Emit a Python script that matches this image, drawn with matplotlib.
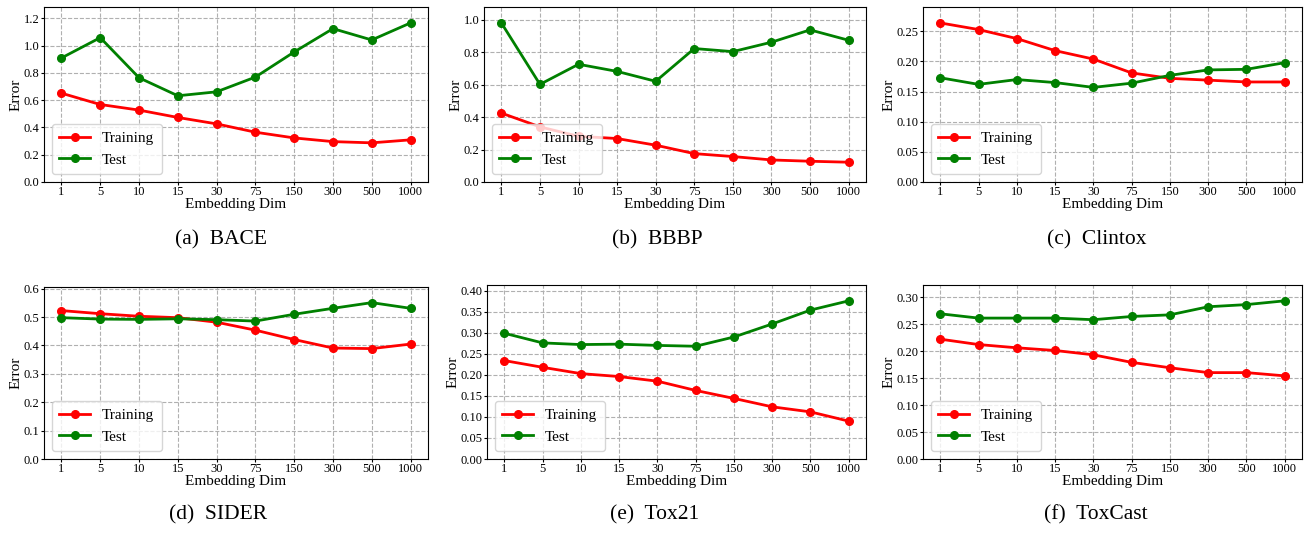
import matplotlib.pyplot as plt

plt.rcParams['font.family'] = ['Liberation Serif', 'DejaVu Serif']

dims = ["1", "5", "10", "15", "30", "75", "150", "300", "500", "1000"]

bace_train = [0.651, 0.568, 0.527, 0.473, 0.426, 0.365, 0.323, 0.296, 0.287, 0.309]
bace_test = [0.909, 1.058, 0.764, 0.632, 0.661, 0.769, 0.953, 1.124, 1.041, 1.166]

bbbp_train = [0.425, 0.340, 0.282, 0.268, 0.227, 0.175, 0.157, 0.136, 0.128, 0.122]
bbbp_test = [0.981, 0.602, 0.726, 0.682, 0.621, 0.823, 0.804, 0.862, 0.938, 0.874]

clintox_train = [0.264, 0.253, 0.238, 0.218, 0.204, 0.181, 0.172, 0.169, 0.166, 0.166]
clintox_test = [0.173, 0.162, 0.170, 0.165, 0.157, 0.164, 0.177, 0.186, 0.187, 0.198]

sider_train = [0.523, 0.512, 0.503, 0.498, 0.482, 0.454, 0.421, 0.391, 0.389, 0.405]
sider_test = [0.498, 0.493, 0.492, 0.494, 0.491, 0.486, 0.510, 0.531, 0.551, 0.531]

tox21_train = [0.234, 0.218, 0.203, 0.196, 0.185, 0.163, 0.144, 0.124, 0.112, 0.090]
tox21_test = [0.299, 0.276, 0.272, 0.273, 0.270, 0.268, 0.290, 0.321, 0.354, 0.376]

toxcast_train = [0.222, 0.212, 0.206, 0.201, 0.193, 0.179, 0.169, 0.160, 0.160, 0.154]
toxcast_test = [0.269, 0.261, 0.261, 0.261, 0.258, 0.264, 0.267, 0.282, 0.286, 0.293]

captions = ["(a)  BACE", "(b)  BBBP", "(c)  Clintox", "(d)  SIDER", "(e)  Tox21", "(f)  ToxCast"]
trains = [bace_train, bbbp_train, clintox_train, sider_train, tox21_train, toxcast_train]
tests = [bace_test, bbbp_test, clintox_test, sider_test, tox21_test, toxcast_test]
yticks = [
    [0.0, 0.2, 0.4, 0.6, 0.8, 1.0, 1.2],
    [0.0, 0.2, 0.4, 0.6, 0.8, 1.0],
    [0.00, 0.05, 0.10, 0.15, 0.20, 0.25],
    [0.0, 0.1, 0.2, 0.3, 0.4, 0.5, 0.6],
    [0.00, 0.05, 0.10, 0.15, 0.20, 0.25, 0.30, 0.35, 0.40],
    [0.00, 0.05, 0.10, 0.15, 0.20, 0.25, 0.30],
]
yfmt = ["%.1f", "%.1f", "%.2f", "%.1f", "%.2f", "%.2f"]

W, H = 1307, 534
# axes boxes in pixels: left, top, right, bottom
boxes = [
    (44, 7, 428, 182), (484, 7, 866, 182), (923, 7, 1302, 182),
    (44, 287, 428, 459), (487, 285, 866, 459), (923, 285, 1302, 459),
]
cap_pos = [(221, 240), (657, 240), (1097, 240), (218, 515), (655, 515), (1096, 515)]

fig = plt.figure(figsize=(W / 100, H / 100), dpi=100)
x = list(range(len(dims)))

for i in range(6):
    l, t, r, b = boxes[i]
    ax = fig.add_axes([l / W, 1 - b / H, (r - l) / W, (b - t) / H])
    ax.plot(x, trains[i], color='red', marker='o', markersize=5.5, linewidth=2, label='Training')
    ax.plot(x, tests[i], color='green', marker='o', markersize=5.5, linewidth=2, label='Test')
    top = max(max(trains[i]), max(tests[i])) * 1.1
    ax.set_ylim(0, top)
    ax.set_yticks(yticks[i])
    ax.set_yticklabels([yfmt[i] % v for v in yticks[i]])
    ax.set_xticks(x)
    ax.set_xticklabels(dims)
    ax.tick_params(labelsize=9, length=2, pad=1.2)
    ax.grid(True, linestyle='--', color='#b0b0b0', linewidth=0.8)
    ax.set_axisbelow(True)
    ax.set_xlabel("Embedding Dim", fontsize=11, labelpad=0)
    ax.set_ylabel("Error", fontsize=11, labelpad=1)
    ax.legend(loc='lower left', fontsize=11, fancybox=True, framealpha=0.8, borderpad=0.5)
    fig.text(cap_pos[i][0] / W, 1 - cap_pos[i][1] / H, captions[i], fontsize=15.5,
             ha='center', va='center')

fig.savefig("out.png", dpi=100)
